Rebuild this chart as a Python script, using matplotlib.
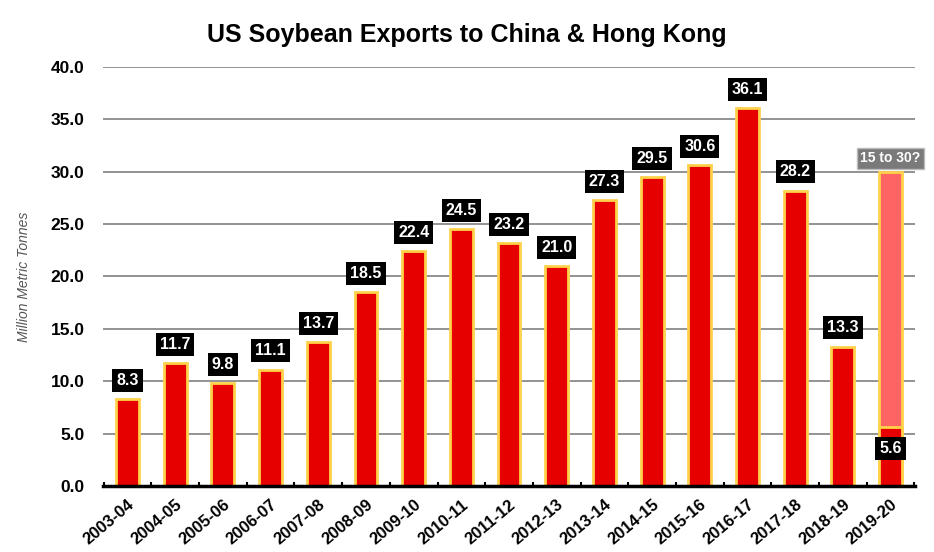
import numpy as np
import matplotlib.pyplot as plt
from matplotlib.ticker import MultipleLocator

plt.rcParams['font.family'] = ['Liberation Sans', 'DejaVu Sans']

# 数据
seasons = ['2003-04', '2004-05', '2005-06', '2006-07', '2007-08', '2008-09',
           '2009-10', '2010-11', '2011-12', '2012-13', '2013-14', '2014-15',
           '2015-16', '2016-17', '2017-18', '2018-19', '2019-20']
exports = [8.3, 11.7, 9.8, 11.1, 13.7, 18.5, 22.4, 24.5, 23.2, 21.0,
           27.3, 29.5, 30.6, 36.1, 28.2, 13.3, 5.6]
forecast_high = 30.0
forecast_label = '15 to 30?'

fig = plt.figure(figsize=(9.34, 5.52), dpi=100)
ax = fig.add_axes([0.110, 0.1196, 0.870, 0.759])

x = np.arange(len(seasons))
width = 0.48

# 预测区间（浅红）
ax.bar(x[-1], forecast_high, width=width, color='#FF6464',
       edgecolor='#FFD24A', linewidth=2, zorder=2)
ax.bar(x, exports, width=width, color='#E60000',
       edgecolor='#FFD24A', linewidth=2, zorder=3)

box = dict(boxstyle='square,pad=0.25', fc='black', ec='none')
for i, v in enumerate(exports):
    if i == len(exports) - 1:
        ax.text(i, v - 2.0, f'{v:.1f}', ha='center', va='center', color='white',
                fontsize=11.5, fontweight='bold', bbox=box, zorder=5)
    else:
        ax.text(i, v + 1.8, f'{v:.1f}', ha='center', va='center', color='white',
                fontsize=11.5, fontweight='bold', bbox=box, zorder=5)

ax.text(x[-1], forecast_high + 1.3, forecast_label, ha='center', va='center',
        color='white', fontsize=10, fontweight='bold', zorder=5,
        bbox=dict(boxstyle='square,pad=0.25', fc='#7A7A7A', ec='#BBBBBB', lw=1))

ax.set_xlim(-0.52, len(seasons) - 0.48)
ax.set_ylim(0, 40)
ax.yaxis.set_major_locator(MultipleLocator(5))
ax.set_yticklabels([f'{t:.1f}' for t in ax.get_yticks()])
ax.grid(axis='y', color='#808080', linewidth=1.2, zorder=0)
ax.set_axisbelow(True)

ax.set_xticks(x)
ax.set_xticklabels(seasons, rotation=40, ha='right', rotation_mode='anchor',
                   fontsize=12, fontweight='bold')
ax.set_xticks(np.arange(-0.5, len(seasons), 1), minor=True)
ax.tick_params(axis='x', which='major', length=0, pad=8)
ax.tick_params(axis='x', which='minor', length=3, width=1.5, direction='in')
ax.tick_params(axis='y', length=0, pad=13, labelsize=12.5)
for lab in ax.get_yticklabels():
    lab.set_fontweight('bold')

for s in ['left', 'right', 'top']:
    ax.spines[s].set_visible(False)
ax.spines['bottom'].set_linewidth(2.5)
ax.spines['bottom'].set_color('black')
ax.spines['bottom'].set_zorder(4)

ax.set_ylabel('Million Metric Tonnes', fontsize=10, style='italic',
              color='#555555', labelpad=14)

fig.text(0.5, 0.937, 'US Soybean Exports to China & Hong Kong', ha='center',
         va='center', fontsize=18, fontweight='bold')

fig.savefig('out.png', dpi=100)
